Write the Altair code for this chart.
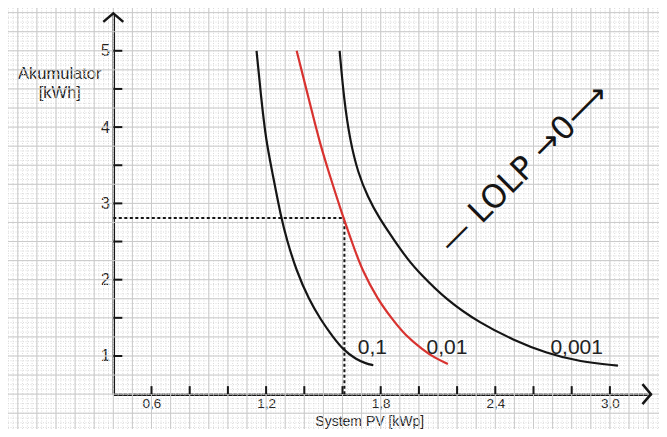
import altair as alt
import numpy as np
import pandas as pd

# ---------------- data ----------------
lolp_levels = ["0,1", "0,01", "0,001"]

pv_01 = [1.150, 1.173, 1.199, 1.234, 1.278, 1.309, 1.357, 1.425, 1.487, 1.550, 1.605, 1.671, 1.723, 1.761]
acc_01 = [5.00, 4.41, 3.83, 3.39, 2.82, 2.52, 2.127, 1.734, 1.472, 1.249, 1.079, 0.954, 0.902, 0.879]

pv_001 = [1.360, 1.425, 1.477, 1.529, 1.603, 1.655, 1.702, 1.786, 1.864, 1.927, 2.022, 2.084, 2.152]
acc_001 = [5.00, 4.355, 3.83, 3.40, 2.82, 2.455, 2.127, 1.734, 1.472, 1.275, 1.079, 0.974, 0.895]

pv_0001 = [1.585, 1.608, 1.639, 1.681, 1.733, 1.789, 1.870, 1.943, 2.006, 2.146, 2.320, 2.494, 2.669, 2.843, 3.042]
acc_0001 = [5.00, 4.355, 3.83, 3.40, 3.08, 2.82, 2.52, 2.26, 2.08, 1.73, 1.43, 1.21, 1.035, 0.925, 0.873]

x_tick_values = [0.6, 0.8, 1.0, 1.2, 1.4, 1.6, 1.8, 2.0, 2.2, 2.4, 2.6, 2.8, 3.0]
x_label_values = [0.6, 1.2, 1.8, 2.4, 3.0]
y_tick_values = [1.0, 1.5, 2.0, 2.5, 3.0, 3.5, 4.0, 4.5, 5.0]
y_label_values = [1, 2, 3, 4, 5]

design_pv = [1.61]
design_acc = [2.81]

curve_label_pv = [1.756, 2.147, 2.826]
curve_label_acc = [1.10, 1.10, 1.10]

lolp_text = "— LOLP →0⟶"
lolp_pv = [2.55]
lolp_acc = [3.46]

# ---------------- layout ----------------
X_MIN, X_MAX = 0.4, 3.215
Y_MIN, Y_MAX = 0.5, 5.49
PX_X, PX_Y = 191.0, 76.3
W = (X_MAX - X_MIN) * PX_X
H = (Y_MAX - Y_MIN) * PX_Y
PAD_L, PAD_T = 105.3, 5.4
PAD_R = 651 - PAD_L - W
PAD_B = 421 - PAD_T - H

FONT = "Liberation Sans"
INK = "#151515"
TXT = "#222222"

xs = alt.Scale(domain=[X_MIN, X_MAX], nice=False, zero=False)
ys = alt.Scale(domain=[Y_MIN, Y_MAX], nice=False, zero=False)

X_AXIS = alt.Axis(
    values=x_label_values,
    labelExpr="replace(format(datum.value, '.1f'), '.', ',')",
    ticks=False,
    tickSize=0,
    grid=False,
    domainColor=INK,
    domainWidth=2.5,
    labelFont=FONT,
    labelFontSize=13.5,
    labelColor=TXT,
    labelPadding=2,
    labelFlush=False,
    title="System PV [kWp]",
    titleFont=FONT,
    titleFontSize=14,
    titleFontWeight="normal",
    titleColor=TXT,
    titleAlign="center",
    titleBaseline="alphabetic",
    titleX=256,
    titleY=31.3,
)
Y_AXIS = alt.Axis(
    values=y_label_values,
    format="d",
    ticks=False,
    tickSize=0,
    grid=False,
    domainColor=INK,
    domainWidth=2.5,
    labelFont=FONT,
    labelFontSize=16,
    labelColor=TXT,
    labelPadding=4,
    labelFlush=False,
    title=["Akumulator", "[kWh]"],
    titleFont=FONT,
    titleFontSize=16.5,
    titleFontWeight="normal",
    titleColor=TXT,
    titleAngle=0,
    titleAlign="center",
    titleBaseline="alphabetic",
    titleLineHeight=19,
    titleX=-54,
    titleY=65,
)

# full-canvas extents in data units (for the graph-paper background)
GX0 = X_MIN - PAD_L / PX_X
GX1 = X_MAX + PAD_R / PX_X
GY0 = Y_MIN - PAD_B / PX_Y
GY1 = Y_MAX + PAD_T / PX_Y


def xenc(field="x"):
    return alt.X(f"{field}:Q", scale=xs, axis=X_AXIS)


def yenc(field="y"):
    return alt.Y(f"{field}:Q", scale=ys, axis=Y_AXIS)


def grid_vals(lo, hi, step, start):
    v = np.round(np.arange(start, hi + step, step), 4)
    return v[(v >= lo) & (v <= hi)]


# ---------------- graph paper ----------------
gx_minor = grid_vals(GX0, GX1, 0.025, X_MIN - 0.6)
gx_major = grid_vals(GX0, GX1, 0.1, X_MIN - 0.6)
gy_minor = grid_vals(GY0, GY1, 0.0625, Y_MIN - 0.5)
gy_major = grid_vals(GY0, GY1, 0.25, Y_MIN - 0.5)

vminor = alt.Chart(pd.DataFrame({"x": gx_minor, "y": GY0, "y2": GY1})).mark_rule(
    color="#dadada", strokeWidth=1, strokeDash=[1, 1.5]
).encode(x=xenc(), y=yenc(), y2="y2:Q")
hminor = alt.Chart(pd.DataFrame({"y": gy_minor, "x": GX0, "x2": GX1})).mark_rule(
    color="#dadada", strokeWidth=1, strokeDash=[1, 1.5]
).encode(y=yenc(), x=xenc(), x2="x2:Q")
vmajor = alt.Chart(pd.DataFrame({"x": gx_major, "y": GY0, "y2": GY1})).mark_rule(
    color="#cacaca", strokeWidth=1
).encode(x=xenc(), y=yenc(), y2="y2:Q")
hmajor = alt.Chart(pd.DataFrame({"y": gy_major, "x": GX0, "x2": GX1})).mark_rule(
    color="#cacaca", strokeWidth=1
).encode(y=yenc(), x=xenc(), x2="x2:Q")

# ---------------- curves ----------------
curves = pd.concat(
    [
        pd.DataFrame({"x": pv_01, "y": acc_01, "level": lolp_levels[0]}),
        pd.DataFrame({"x": pv_001, "y": acc_001, "level": lolp_levels[1]}),
        pd.DataFrame({"x": pv_0001, "y": acc_0001, "level": lolp_levels[2]}),
    ],
    ignore_index=True,
)

lines = alt.Chart(curves).mark_line(strokeWidth=2.2, interpolate="basis").encode(
    x=xenc(),
    y=yenc(),
    color=alt.Color(
        "level:N",
        scale=alt.Scale(domain=lolp_levels, range=[INK, "#d8322f", INK]),
        legend=None,
    ),
    detail="level:N",
)

# ---------------- inward ticks ----------------
yticks = alt.Chart(pd.DataFrame({"y": y_tick_values, "x": X_MIN})).mark_tick(
    orient="horizontal", size=9, thickness=2, xOffset=4.5, color=INK, opacity=1
).encode(x=xenc(), y=yenc())
xticks = alt.Chart(pd.DataFrame({"x": x_tick_values, "y": Y_MIN})).mark_tick(
    orient="vertical", size=8, thickness=2, yOffset=-4, color=INK, opacity=1
).encode(x=xenc(), y=yenc())

# ---------------- axis arrow heads ----------------
arrow_up = alt.Chart(pd.DataFrame({"x": [X_MIN], "y": [Y_MAX]})).mark_point(
    shape="M-1,0.85L0,0L1,0.85", size=400, filled=False, strokeWidth=2.5, color=INK, opacity=1
).encode(x=xenc(), y=yenc())
arrow_right = alt.Chart(pd.DataFrame({"x": [X_MAX], "y": [Y_MIN]})).mark_point(
    shape="M-0.85,-1L0,0L-0.85,1", size=400, filled=False, strokeWidth=2.5, color=INK, opacity=1
).encode(x=xenc(), y=yenc())

# ---------------- dashed design point ----------------
dash_h = alt.Chart(pd.DataFrame({"x": [X_MIN], "x2": design_pv, "y": design_acc})).mark_rule(
    color=INK, strokeWidth=2, strokeDash=[3, 2.5]
).encode(x=xenc(), x2="x2:Q", y=yenc())
dash_v = alt.Chart(pd.DataFrame({"x": design_pv, "y": [Y_MIN], "y2": design_acc})).mark_rule(
    color=INK, strokeWidth=2, strokeDash=[3, 2.5]
).encode(x=xenc(), y=yenc(), y2="y2:Q")

# ---------------- curve labels ----------------
labels = alt.Chart(
    pd.DataFrame({"x": curve_label_pv, "y": curve_label_acc, "t": lolp_levels})
).mark_text(font=FONT, fontSize=21, color=TXT, align="center", baseline="middle").encode(
    x=xenc(), y=yenc(), text="t:N"
)

lolp = alt.Chart(pd.DataFrame({"x": lolp_pv, "y": lolp_acc, "t": [lolp_text]})).mark_text(
    font="DejaVu Sans", fontSize=32, color=INK, angle=315, align="center", baseline="middle"
).encode(x=xenc(), y=yenc(), text="t:N")

chart = (
    alt.layer(
        vminor, hminor, vmajor, hmajor,
        dash_h, dash_v, lines, yticks, xticks, arrow_up, arrow_right, labels, lolp,
    )
    .properties(
        width=W,
        height=H,
        padding={"left": PAD_L, "top": PAD_T, "right": PAD_R, "bottom": PAD_B},
        autosize=alt.AutoSizeParams(type="none"),
        background="white",
    )
    .configure_view(stroke=None)
)

chart.save("out.html", embed_options={"renderer": "svg", "actions": False})
